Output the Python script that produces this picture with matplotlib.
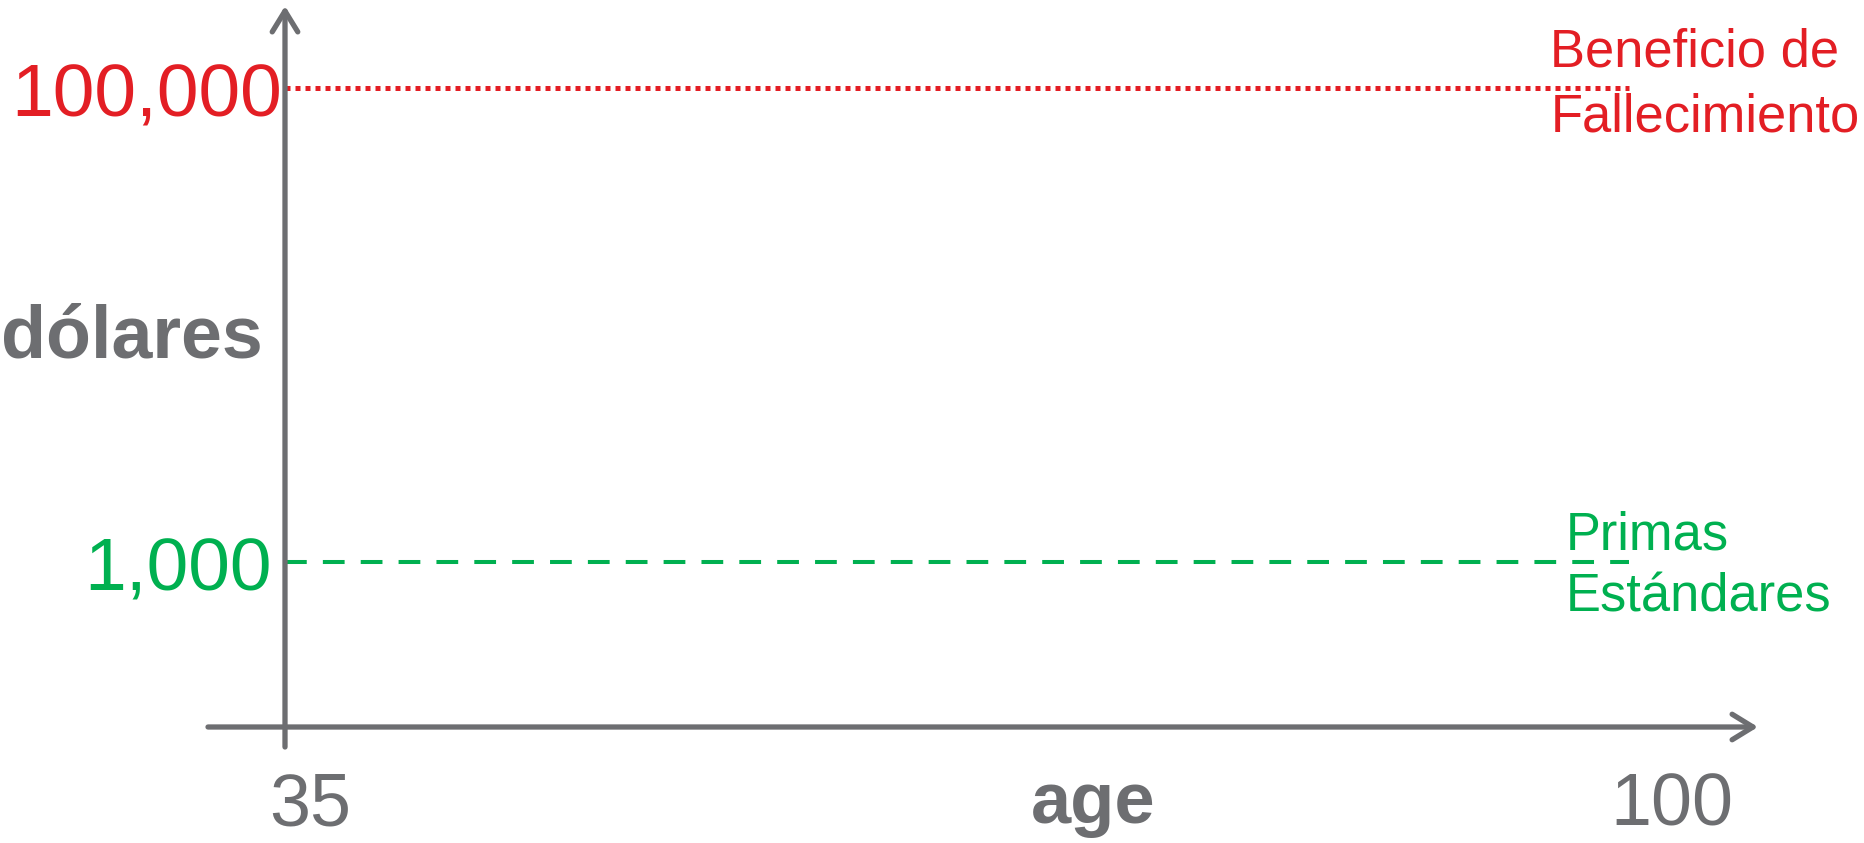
import matplotlib
matplotlib.use('Agg')
from matplotlib import pyplot as plt

# data
ages = [35, 100]
line_end_age = 98
benefit = 100000
premium = 1000
value_labels = ['100,000', '1,000']
series_labels = ['Beneficio de\nFallecimiento', 'Primas\nEstándares']

GRAY = '#6d6e71'
RED = '#e31e24'
GREEN = '#00b050'
W, H = 1865, 843

plt.rcParams['font.family'] = ['Liberation Sans', 'DejaVu Sans']

fig = plt.figure(figsize=(W / 100, H / 100), dpi=100)
ax = fig.add_axes([0, 0, 1, 1])
ax.set_axis_off()

# scales chosen so that age 35 sits on the y axis and each decade of dollars spans the same height
k = 1387 / (ages[1] - ages[0])
ax.set_xlim(ages[0] - 285 / k, ages[0] + (W - 285) / k)
ax.set_yscale('log')
ax.set_ylim(10 ** (3 - 281 / 237), 10 ** (3 + 562 / 237))


def px(x, y):
    return (x / W, 1 - y / H)


# axes arrows
arrow = dict(arrowstyle='->,head_length=0.75,head_width=0.46', lw=3.8, color=GRAY,
             shrinkA=0, shrinkB=0, mutation_scale=20, capstyle='round')
ax.annotate('', xy=px(285, 6), xytext=px(285, 747), xycoords='axes fraction',
            textcoords='axes fraction', arrowprops=arrow)
ax.annotate('', xy=px(1758, 727), xytext=px(208, 727), xycoords='axes fraction',
            textcoords='axes fraction', arrowprops=arrow)

# horizontal lines
ax.plot([ages[0], line_end_age], [benefit, benefit], color=RED, lw=3.6,
        linestyle=(0, (1, 1)), dash_capstyle='butt', solid_capstyle='butt')
ax.plot([ages[0], line_end_age], [premium, premium], color=GREEN, lw=2.9,
        linestyle=(0, (5.4, 4.0)), dash_capstyle='butt')

# value labels on the y axis
for val, lab, col, dx in zip([benefit, premium], value_labels, [RED, GREEN], [-3, -13]):
    ax.annotate(lab, xy=(ages[0], val), xytext=(dx, -29), textcoords='offset pixels',
                ha='right', va='baseline', fontsize=54, color=col)

# series labels near line ends: (dx, first baseline dy, second baseline dy)
offsets = [(-79, 21, -44), (-64, 12, -50)]
for val, lab, col, (dx, dy1, dy2) in zip([benefit, premium], series_labels, [RED, GREEN], offsets):
    first, second = lab.split('\n')
    ax.annotate(first, xy=(line_end_age, val), xytext=(dx, dy1), textcoords='offset pixels',
                ha='left', va='baseline', fontsize=37.8, color=col)
    ax.annotate(second, xy=(line_end_age, val), xytext=(dx, dy2), textcoords='offset pixels',
                ha='left', va='baseline', fontsize=37.8, color=col)

# axis titles and age ticks
ax.text(*px(1, 358), 'dólares', transform=ax.transAxes, ha='left', va='baseline',
        fontsize=53, fontweight='bold', color=GRAY)
ax.text(*px(1093, 823), 'age', transform=ax.transAxes, ha='center', va='baseline',
        fontsize=52, fontweight='bold', color=GRAY)
for a, xoff in zip(ages, [25, 0]):
    ax.annotate(str(a), xy=(a, 10 ** (3 - 165 / 237)), xytext=(xoff, -98),
                textcoords='offset pixels', ha='center', va='baseline',
                fontsize=53, color=GRAY)

fig.savefig('out.png', dpi=100)
